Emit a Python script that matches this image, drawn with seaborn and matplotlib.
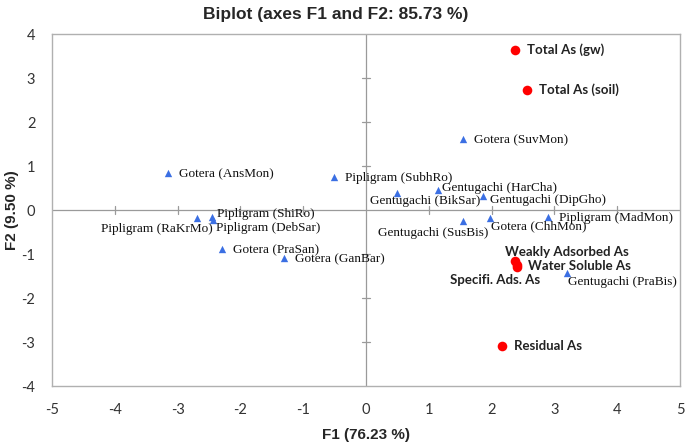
'''Biplot of F1/F2 factor scores: sampling sites (blue) and arsenic variables (red).'''

import pandas as pd
import matplotlib
matplotlib.use("Agg")
import matplotlib.pyplot as plt
import seaborn as sns

#==================================== DATA ====================================
site_names = ['Gotera (AnsMon)', 'Pipligram (SubhRo)', 'Pipligram (ShiRo)',
              'Pipligram (DebSar)', 'Pipligram (RaKrMo)', 'Gotera (PraSan)',
              'Gotera (GanBar)', 'Gotera (SuvMon)', 'Gentugachi (BikSar)',
              'Gentugachi (HarCha)', 'Gentugachi (DipGho)', 'Gentugachi (SusBis)',
              'Gotera (ChhMon)', 'Pipligram (MadMon)', 'Gentugachi (PraBis)']
site_f1 = [-3.15, -0.51, -2.45, -2.44, -2.69, -2.29, -1.31, 1.55, 0.49, 1.15, 1.86, 1.55, 1.97, 2.90, 3.20]
site_f2 = [0.84, 0.75, -0.16, -0.23, -0.18, -0.89, -1.09, 1.61, 0.39, 0.45, 0.32, -0.25, -0.19, -0.16, -1.43]

var_names = ['Total As (gw)', 'Total As (soil)', 'Weakly Adsorbed As',
             'Water Soluble As', 'Specifi. Ads. As', 'Residual As']
var_f1 = [2.37, 2.56, 2.38, 2.41, 2.40, 2.17]
var_f2 = [3.64, 2.73, -1.17, -1.30, -1.25, -3.09]

x_ticks = [-5, -4, -3, -2, -1, 0, 1, 2, 3, 4, 5]
y_ticks = [-4, -3, -2, -1, 0, 1, 2, 3, 4]

#label placement (offset in pixels, horizontal alignment); default is right of point
label_pos = {
    'Pipligram (ShiRo)': (5, 3, 'left'),
    'Pipligram (DebSar)': (3, -8, 'left'),
    'Pipligram (RaKrMo)': (16, -11, 'right'),
    'Gentugachi (BikSar)': (28, -8, 'center'),
    'Gentugachi (HarCha)': (4, 2, 'left'),
    'Gentugachi (DipGho)': (7, -4, 'left'),
    'Gentugachi (SusBis)': (-30, -12, 'center'),
    'Gotera (ChhMon)': (1, -8, 'left'),
    'Gentugachi (PraBis)': (1, -9, 'left'),
    'Weakly Adsorbed As': (51, 9, 'center'),
    'Water Soluble As': (11, 1, 'left'),
    'Specifi. Ads. As': (-22, -15, 'center'),
}

#==================================== PLOT ====================================
sites_df = pd.DataFrame({'name': site_names, 'F1': site_f1, 'F2': site_f2, 'kind': 'site'})
vars_df = pd.DataFrame({'name': var_names, 'F1': var_f1, 'F2': var_f2, 'kind': 'variable'})

sns.set_style("white")
plt.rcParams['axes.unicode_minus'] = False
serif = ['Liberation Serif', 'DejaVu Serif']
sans_b = ['Lato', 'DejaVu Sans']
narrow = ['Liberation Sans Narrow', 'Liberation Sans', 'DejaVu Sans']

fig = plt.figure(figsize=(6.85, 4.44), dpi=100)
ax = fig.add_axes([52/685, 1 - 386/444, 628/685, 352/444])

sns.scatterplot(data=sites_df, x='F1', y='F2', marker='^', color='#3b6fe3',
                s=28, linewidth=0, ax=ax, zorder=3)
sns.scatterplot(data=vars_df, x='F1', y='F2', marker='o', color='#ff0000',
                s=48, linewidth=0, ax=ax, zorder=3)

ax.set_xlim(-5, 5)
ax.set_ylim(-4, 4)
ax.set_xticks(x_ticks)
ax.set_yticks(y_ticks)
ax.tick_params(length=0, labelsize=10.5, labelcolor='#333333')
ax.tick_params(axis='x', pad=12)
ax.tick_params(axis='y', pad=12)
for lab in ax.get_xticklabels() + ax.get_yticklabels():
    lab.set_family(['Lato', 'DejaVu Sans'])
for sp in ax.spines.values():
    sp.set_color('#b0b0b0')
    sp.set_linewidth(1)

#zero axes with cross ticks
ax.axhline(0, color='#9a9a9a', lw=0.9, zorder=1)
ax.axvline(0, color='#9a9a9a', lw=0.9, zorder=1)
for t in x_ticks[1:-1]:
    if t != 0:
        ax.plot([t, t], [-0.1, 0.1], color='#9a9a9a', lw=0.9, zorder=1)
for t in y_ticks[1:-1]:
    if t != 0:
        ax.plot([-0.07, 0.07], [t, t], color='#9a9a9a', lw=0.9, zorder=1)

#labels
for name, x, y in zip(site_names, site_f1, site_f2):
    dx, dy, ha = label_pos.get(name, (11, -1, 'left'))
    ax.annotate(name, (x, y), xytext=(dx, dy), textcoords='offset pixels',
                ha=ha, va='center', fontsize=9.5, family=serif, color='#111111')
for name, x, y in zip(var_names, var_f1, var_f2):
    dx, dy, ha = label_pos.get(name, (12, 0, 'left'))
    ax.annotate(name, (x, y), xytext=(dx, dy), textcoords='offset pixels',
                ha=ha, va='center', fontsize=9.5, family=sans_b, weight='bold',
                color='#222222')

ax.set_xlabel('F1 (76.23 %)', fontsize=11, weight='bold', family=narrow, labelpad=8)
ax.set_ylabel('F2 (9.50 %)', fontsize=11, weight='bold', family=narrow, labelpad=2)
fig.suptitle('Biplot (axes F1 and F2: 85.73 %)', x=0.49, y=0.985, fontsize=12.5,
             weight='bold', family=narrow)

fig.savefig('out.png', dpi=100)
